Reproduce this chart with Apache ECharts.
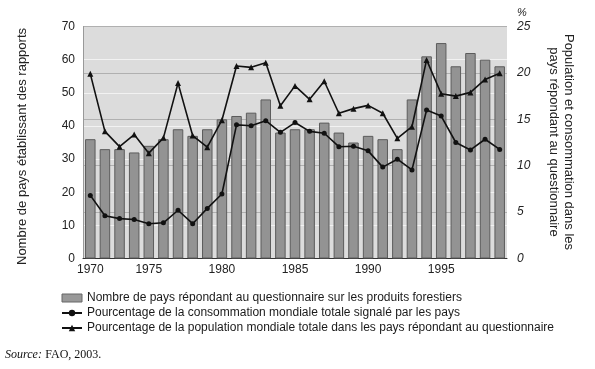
<!DOCTYPE html>
<html><head><meta charset="utf-8">
<script src="https://cdn.jsdelivr.net/npm/echarts@6/dist/echarts.min.js"></script>
<style>html,body{margin:0;padding:0;background:#fff}#c{width:595px;height:369px}</style>
</head><body><div id="c"></div>
<script>
const years = ['1971','1972','1973','1974','1975','1976','1977','1978','1979','1980','1981','1982','1983','1984','1985','1986','1987','1988','1989','1990','1991','1992','1993','1994','1995','1996','1997','1998','1999'];
const tickPositions = [0,4,9,14,19,24];
const tickLabels = ['1970','1975','1980','1985','1990','1995'];
const leftTicks = [0,10,20,30,40,50,60,70];
const rightTicks = [0,5,10,15,20,25];
const countries = [36,33,33,32,34,36,39,37,39,42,43,44,48,38,39,39,41,38,35,37,36,33,48,61,65,58,62,60,58];
const consumption = [6.8,4.6,4.3,4.2,3.75,3.85,5.2,3.75,5.4,6.95,14.4,14.3,14.85,13.6,14.65,13.7,13.5,12.05,12.1,11.6,9.85,10.7,9.55,16.0,15.35,12.5,11.7,12.85,11.75];
const population = [19.9,13.7,12.05,13.35,11.35,13.0,18.9,13.25,12.0,14.9,20.75,20.6,21.1,16.45,18.6,17.15,19.1,15.65,16.15,16.5,15.65,12.95,14.2,21.4,17.75,17.5,17.9,19.3,19.95];
const seriesNames = [
  'Nombre de pays répondant au questionnaire sur les produits forestiers',
  'Pourcentage de la consommation mondiale totale signalé par les pays',
  'Pourcentage de la population mondiale totale dans les pays répondant au questionnaire'
];

const font = 'Liberation Sans, Arial, sans-serif';
const chart = echarts.init(document.getElementById('c'), null, {renderer: 'canvas'});
chart.setOption({
  animation: false,
  backgroundColor: '#fff',
  textStyle: {fontFamily: font},
  grid: {left: 83, right: 88, top: 26.5, bottom: 110.5, show: true, backgroundColor: '#dcdcdc', borderWidth: 0},
  legend: {
    orient: 'vertical', left: 61, top: 291, padding: 0, itemGap: 1, itemWidth: 20, itemHeight: 8,
    textStyle: {fontSize: 12, color: '#1a1a1a', fontFamily: font, lineHeight: 14},
    data: [
      {name: seriesNames[0], icon: 'rect', itemStyle: {color: '#999', borderColor: '#666', borderWidth: 1}},
      {name: seriesNames[1]},
      {name: seriesNames[2]}
    ]
  },
  xAxis: {
    type: 'category', data: years, boundaryGap: true,
    axisLine: {lineStyle: {color: '#333', width: 1}},
    axisTick: {show: false},
    axisLabel: {
      fontSize: 12, color: '#222', margin: 5,
      interval: (i) => tickPositions.indexOf(i) >= 0,
      formatter: (v, i) => { const k = tickPositions.indexOf(i); return k >= 0 ? tickLabels[k] : ''; }
    },
    splitLine: {show: false}
  },
  yAxis: [
    {
      type: 'value', min: leftTicks[0], max: leftTicks[leftTicks.length-1], interval: 10,
      name: 'Nombre de pays établissant des rapports', nameLocation: 'middle', nameGap: 54, nameRotate: 90,
      nameTextStyle: {fontSize: 13, color: '#222', padding: [0, 8, 0, 0]},
      axisLine: {show: true, lineStyle: {color: '#999'}},
      axisTick: {show: false},
      axisLabel: {fontSize: 12, color: '#222', margin: 8},
      splitLine: {show: true, lineStyle: {color: '#f2f2f2', width: 1}}
    },
    {
      type: 'value', min: rightTicks[0], max: rightTicks[rightTicks.length-1], interval: 5, position: 'right',
      name: '%', nameLocation: 'end', nameGap: 8,
      nameTextStyle: {fontSize: 11, color: '#222', fontStyle: 'italic', align: 'left', padding: [0,0,0,10]},
      axisLine: {show: false},
      axisTick: {show: false},
      axisLabel: {fontSize: 12, color: '#222', fontStyle: 'italic', margin: 10},
      splitLine: {show: true, lineStyle: {color: '#b0b0b0', width: 1}}
    }
  ],
  series: [
    {
      name: seriesNames[0], type: 'bar', data: countries, yAxisIndex: 0, barWidth: 10.5,
      itemStyle: {color: '#939393', borderColor: '#5c5c5c', borderWidth: 1}
    },
    {
      name: seriesNames[1], type: 'line', data: consumption, yAxisIndex: 1,
      symbol: 'circle', symbolSize: 5,
      lineStyle: {color: '#111', width: 1.6}, itemStyle: {color: '#111'}
    },
    {
      name: seriesNames[2], type: 'line', data: population, yAxisIndex: 1,
      symbol: 'triangle', symbolSize: 6,
      lineStyle: {color: '#111', width: 1.6}, itemStyle: {color: '#111'}
    }
  ],
  graphic: [
    {
      type: 'text', x: 561, y: 142, rotation: -Math.PI/2,
      style: {
        text: 'Population et consommation dans les\npays répondant au questionnaire',
        font: '13px ' + font, fill: '#222', align: 'center', verticalAlign: 'middle', lineHeight: 15
      }
    },
    {
      type: 'text', left: 5, top: 349,
      style: {
        text: '{i|Source:} {n|FAO, 2003.}',
        rich: {
          i: {fontFamily: 'Liberation Serif, Times New Roman, serif', fontStyle: 'italic', fontSize: 12, fill: '#111'},
          n: {fontFamily: 'Liberation Serif, Times New Roman, serif', fontSize: 12, fill: '#111'}
        }
      }
    }
  ]
});
</script></body></html>
